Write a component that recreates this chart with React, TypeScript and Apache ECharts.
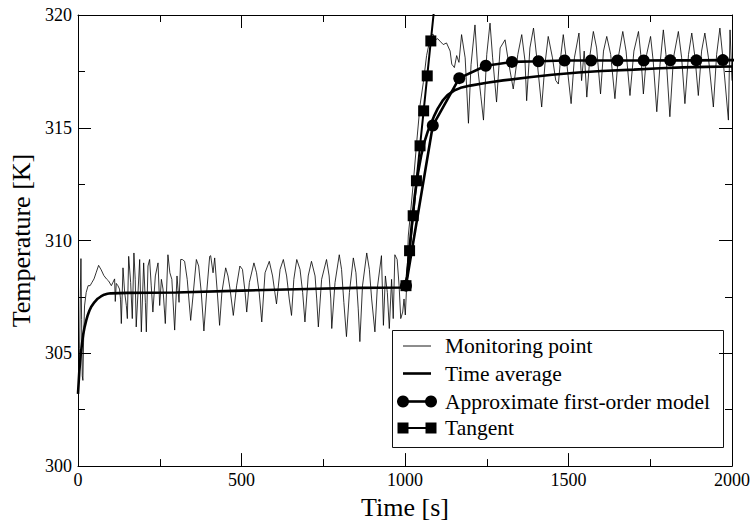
import React, { useEffect, useRef } from "react";
import * as echarts from "echarts";

const FONT = "Liberation Serif";

// axis ranges / ticks
const xRange = [0, 2000];
const xStep = 500;
const yRange = [300, 320];
const yStep = 5;

const seriesNames = [
  "Monitoring point",
  "Time average",
  "Approximate first-order model",
  "Tangent",
];

// Monitoring point [time s, temperature K]
const monitoringPoint: [number, number][] = [
  [0, 303.2], [3, 304.0], [5, 305.2], [7, 307.5], [9, 309.2], [11, 306.5], [13, 304.0], [15, 303.8],
  [17, 305.5], [20, 307.1], [25, 307.7], [31, 308.0], [37, 308.0], [43, 308.15], [49, 308.3],
  [56, 308.6], [63, 308.9], [71, 308.7], [79, 308.45], [87, 308.3], [94, 308.2], [102, 308.0],
  [107, 308.15], [112, 308.3], [114, 307.3], [117, 308.1], [122, 308.0], [127, 307.85], [130, 307.4],
  [132.5, 306.32], [137.6, 308.79], [142.7, 307.7], [147.8, 307.12], [150.9, 306.54], [155, 309.3],
  [161, 308.14], [166, 306.54], [171, 309.45], [175, 308.28], [178, 306.17], [183.5, 307.7],
  [188.6, 309.16], [193.7, 305.95], [200.8, 309.01], [206, 307.26], [209, 305.95], [214, 308.87],
  [219, 309.16], [224, 307.99], [229, 306.83], [236.5, 308.43], [244.7, 309.01], [249.8, 307.12],
  [255, 308.28], [260, 307.85], [267, 306.32], [275, 309.37], [281, 308.57], [287, 308.28],
  [295.6, 306.03], [302.8, 308.43], [309, 307.26], [314, 309.16], [319, 309.16], [326, 309.08],
  [334, 308.28], [344.6, 306.46], [352.7, 307.7], [362, 309.16], [369, 308.87], [377, 307.7],
  [385, 305.99], [393.5, 307.7], [402.7, 309.3], [405.7, 309.33], [413, 308.57], [418, 309.23],
  [426, 307.7], [433, 306.24], [440, 307.7], [451.6, 308.79], [458.7, 308.43],
  [465, 307.85], [475, 306.68], [485, 307.99], [495, 308.87], [503, 308.72], [511, 307.7],
  [516, 306.83], [524, 308.14], [538, 309.01], [546, 308.57], [554, 307.7], [562, 306.39],
  [572, 308.57], [585, 309.08], [595, 308.43], [602, 307.7], [607, 307.19], [618, 308.72],
  [628, 309.16], [638, 308.43], [646, 307.41], [653, 306.68], [660, 308.28], [669, 309.16],
  [679, 308.72], [687, 307.7], [694, 306.39], [704, 308.43], [714, 309.08], [725, 308.43],
  [730, 307.41], [735, 306.17], [745, 308.28], [760, 309.16], [768, 308.43], [773, 307.41],
  [776, 306.1], [786, 308.14], [799, 309.37], [806, 308.72], [813, 307.26], [821, 305.74],
  [830, 307.7], [842, 309.23], [850, 308.57], [857, 306.97], [862, 305.52], [870, 307.99],
  [883, 309.45], [891, 308.72], [898, 307.41], [908, 305.95], [915, 307.85], [928, 309.33],
  [934, 306.24], [940, 308.43], [946, 307.7], [952, 306.1], [959, 308.28], [964, 306.54],
  [969, 309.37], [976, 309.16], [982, 307.99], [987, 306.54], [993, 306.83], [997, 307.41],
  [1001, 306.7], [1006, 308.3], [1010, 310.2], [1018, 311.4], [1025, 312.5], [1036, 314.4],
  [1046, 316.0], [1056, 317.0], [1066, 318.2], [1074, 318.76], [1081, 319.1], [1086, 319.15],
  [1092, 318.9], [1100, 318.95], [1107, 318.84], [1117, 318.69], [1127, 318.76], [1138, 318.4],
  [1143, 317.82], [1151, 317.67], [1158, 318.2], [1165, 317.9], [1173, 319.13], [1184, 318.1],
  [1194, 315.2], [1202, 317.8], [1214, 319.56], [1222, 317.7], [1232, 316.4], [1240, 315.34],
  [1250, 318.25], [1260, 319.64], [1268, 318.1], [1280, 316.14], [1291, 318.54], [1306, 318.9],
  [1316, 317.96], [1331, 316.72], [1345, 318.25], [1357, 319.13], [1367, 317.96], [1372, 316.2],
  [1382, 318.54], [1393, 319.42], [1403, 318.1], [1418, 315.92], [1428, 317.82], [1438, 319.05],
  [1451, 318.1], [1461, 317.1], [1469, 316.94], [1477, 318.25], [1484, 319.13], [1494, 317.96],
  [1508, 316.07], [1518, 318.1], [1532, 319.2], [1540, 317.09], [1548, 318.4], [1556, 316.36],
  [1566, 318.25], [1576, 319.27], [1586, 318.54], [1598, 316.5], [1607, 318.4], [1617, 319.05],
  [1629, 318.25], [1642, 316.29], [1652, 318.1], [1666, 319.27], [1676, 318.4], [1688, 316.43],
  [1700, 318.4], [1714, 319.27], [1721, 318.25], [1729, 316.5], [1739, 318.25], [1751, 319.05],
  [1759, 317.96], [1770, 315.71], [1780, 317.82], [1790, 319.34], [1798, 318.25], [1810, 315.49],
  [1821, 318.1], [1836, 319.27], [1846, 318.1], [1856, 316.07], [1867, 318.25], [1877, 319.2],
  [1887, 318.1], [1897, 316.43], [1907, 318.4], [1917, 319.2], [1928, 318.1], [1943, 315.92],
  [1953, 318.25], [1963, 319.42], [1974, 317.82], [1989, 315.34], [1994, 319.34], [2000, 317.09],
];

// Time average
const timeAverage: [number, number][] = [
  [0, 303.2], [4, 304.2], [8, 304.9], [12, 305.4], [16, 305.85], [20, 306.15], [25, 306.45],
  [30, 306.7], [35, 306.9], [40, 307.05], [50, 307.26], [60, 307.42], [70, 307.52], [80, 307.6],
  [90, 307.64], [100, 307.66], [150, 307.68], [300, 307.7], [500, 307.78], [700, 307.85],
  [850, 307.9], [1000, 307.92], [1006, 308.4], [1013, 309.5], [1020, 310.6], [1030, 312.0],
  [1040, 313.0], [1050, 313.8], [1060, 314.4], [1070, 314.85], [1080, 315.2], [1090, 315.55],
  [1100, 315.85], [1115, 316.2], [1130, 316.45], [1150, 316.65], [1170, 316.77], [1200, 316.87],
  [1250, 317.0], [1300, 317.1], [1380, 317.24], [1450, 317.35], [1530, 317.45], [1600, 317.52],
  [1700, 317.58], [1780, 317.64], [1850, 317.68], [1920, 317.7], [2000, 317.72],
];

// Approximate first-order model (markers)
const firstOrderModel: [number, number][] = [
  [1003, 308.0], [1085, 315.1], [1166, 317.2], [1247, 317.75], [1327, 317.92], [1408, 317.95],
  [1488, 317.98], [1569, 317.98], [1650, 317.98], [1730, 317.98], [1811, 317.99], [1891, 317.99],
  [1972, 318.0], [2053, 318.0],
];

// Tangent (markers)
const tangent: [number, number][] = [
  [1003, 308.0], [1014, 309.55], [1025, 311.1], [1035, 312.65], [1046, 314.2], [1057, 315.75],
  [1068, 317.3], [1079, 318.85], [1090, 320.4],
];

const BLACK = "#000";

const tickFormatter = (v: number) => String(v);

function axisCommon(showLabels: boolean) {
  return {
    type: "value" as const,
    axisLine: { show: true, onZero: false, lineStyle: { color: BLACK, width: 1 } },
    axisTick: { show: true, inside: true, length: 13, lineStyle: { color: BLACK, width: 1 } },
    minorTick: { show: true, splitNumber: 2, length: 7, lineStyle: { color: BLACK, width: 1 } },
    splitLine: { show: false },
    minorSplitLine: { show: false },
    axisLabel: { show: showLabels, color: BLACK, fontSize: 18, fontFamily: FONT, formatter: tickFormatter },
  };
}

function markersOnly(data: [number, number][], xMax: number, yMax: number) {
  return data.map((d) =>
    d[0] > xMax || d[1] > yMax ? { value: d, symbol: "none" } : { value: d }
  );
}

export default function App() {
  const ref = useRef<HTMLDivElement>(null);

  useEffect(() => {
    if (!ref.current) return;
    const chart = echarts.init(ref.current, null, { renderer: "svg", width: 753, height: 525 });

    const legendX = 392;
    const legendY = 330;
    const rowY = [346, 373.5, 401.5, 428];
    const sx1 = 403;
    const sx2 = 431;
    const textX = 445;
    const legendFont = { fontSize: 21.5, fontFamily: FONT, fill: BLACK, verticalAlign: "middle", align: "left" };

    const option: any = {
      animation: false,
      backgroundColor: "#fff",
      textStyle: { fontFamily: FONT, color: BLACK },
      grid: { left: 78, right: 21, top: 15, bottom: 52, containLabel: false },
      xAxis: [
        {
          ...axisCommon(true),
          position: "bottom",
          min: xRange[0],
          max: xRange[1],
          interval: xStep,
          axisLabel: { show: true, color: BLACK, fontSize: 18, fontFamily: FONT, margin: 5, formatter: tickFormatter },
          name: "Time [s]",
          nameLocation: "middle",
          nameGap: 22,
          nameTextStyle: { color: BLACK, fontSize: 26, fontFamily: FONT },
        },
        {
          ...axisCommon(false),
          position: "top",
          min: xRange[0],
          max: xRange[1],
          interval: xStep,
        },
      ],
      yAxis: [
        {
          ...axisCommon(true),
          position: "left",
          min: yRange[0],
          max: yRange[1],
          interval: yStep,
          axisLabel: { show: true, color: BLACK, fontSize: 18, fontFamily: FONT, margin: 6, formatter: tickFormatter },
          name: "Temperature [K]",
          nameLocation: "middle",
          nameGap: 38,
          nameTextStyle: { color: BLACK, fontSize: 26, fontFamily: FONT },
        },
        {
          ...axisCommon(false),
          position: "right",
          min: yRange[0],
          max: yRange[1],
          interval: yStep,
        },
      ],
      series: [
        {
          type: "line",
          name: seriesNames[0],
          data: monitoringPoint,
          symbol: "none",
          showSymbol: false,
          clip: true,
          silent: true,
          lineStyle: { color: BLACK, width: 0.8 },
          z: 2,
        },
        {
          type: "line",
          name: seriesNames[1],
          data: timeAverage,
          symbol: "none",
          showSymbol: false,
          clip: true,
          silent: true,
          lineStyle: { color: BLACK, width: 2.6 },
          z: 3,
        },
        {
          type: "line",
          name: seriesNames[2],
          data: markersOnly(firstOrderModel, xRange[1], yRange[1]),
          symbol: "circle",
          symbolSize: 12,
          showAllSymbol: true,
          clip: true,
          silent: true,
          itemStyle: { color: BLACK, borderWidth: 0 },
          lineStyle: { color: BLACK, width: 2.6 },
          z: 4,
        },
        {
          type: "line",
          name: seriesNames[3],
          data: markersOnly(tangent, xRange[1], yRange[1]),
          symbol: "rect",
          symbolSize: 11,
          showAllSymbol: true,
          clip: true,
          silent: true,
          itemStyle: { color: BLACK, borderWidth: 0 },
          lineStyle: { color: BLACK, width: 2 },
          z: 5,
        },
      ],
      graphic: [
        {
          type: "group",
          z: 100,
          children: [
            {
              type: "rect",
              shape: { x: legendX + 0.5, y: legendY + 0.5, width: 331, height: 117 },
              style: { fill: "#fff", stroke: "#111", lineWidth: 1 },
            },
            // Monitoring point
            { type: "line", shape: { x1: sx1, y1: rowY[0], x2: sx2, y2: rowY[0] }, style: { stroke: BLACK, lineWidth: 0.9 } },
            { type: "text", x: textX, y: rowY[0], style: { text: seriesNames[0], ...legendFont } },
            // Time average
            { type: "line", shape: { x1: sx1, y1: rowY[1], x2: sx2, y2: rowY[1] }, style: { stroke: BLACK, lineWidth: 2.6 } },
            { type: "text", x: textX, y: rowY[1], style: { text: seriesNames[1], ...legendFont } },
            // First-order model
            { type: "line", shape: { x1: sx1, y1: rowY[2], x2: sx2, y2: rowY[2] }, style: { stroke: BLACK, lineWidth: 2.6 } },
            { type: "circle", shape: { cx: sx1, cy: rowY[2], r: 6 }, style: { fill: BLACK } },
            { type: "circle", shape: { cx: sx2, cy: rowY[2], r: 6 }, style: { fill: BLACK } },
            { type: "text", x: textX, y: rowY[2], style: { text: seriesNames[2], ...legendFont } },
            // Tangent
            { type: "line", shape: { x1: sx1, y1: rowY[3], x2: sx2, y2: rowY[3] }, style: { stroke: BLACK, lineWidth: 2 } },
            { type: "rect", shape: { x: sx1 - 5.5, y: rowY[3] - 5.5, width: 11, height: 11 }, style: { fill: BLACK } },
            { type: "rect", shape: { x: sx2 - 5.5, y: rowY[3] - 5.5, width: 11, height: 11 }, style: { fill: BLACK } },
            { type: "text", x: textX, y: rowY[3], style: { text: seriesNames[3], ...legendFont } },
          ],
        },
      ],
    };

    chart.setOption(option);
    return () => chart.dispose();
  }, []);

  return (
    <div
      ref={ref}
      style={{ position: "fixed", left: 0, top: 0, width: 753, height: 525, background: "#fff" }}
    />
  );
}
